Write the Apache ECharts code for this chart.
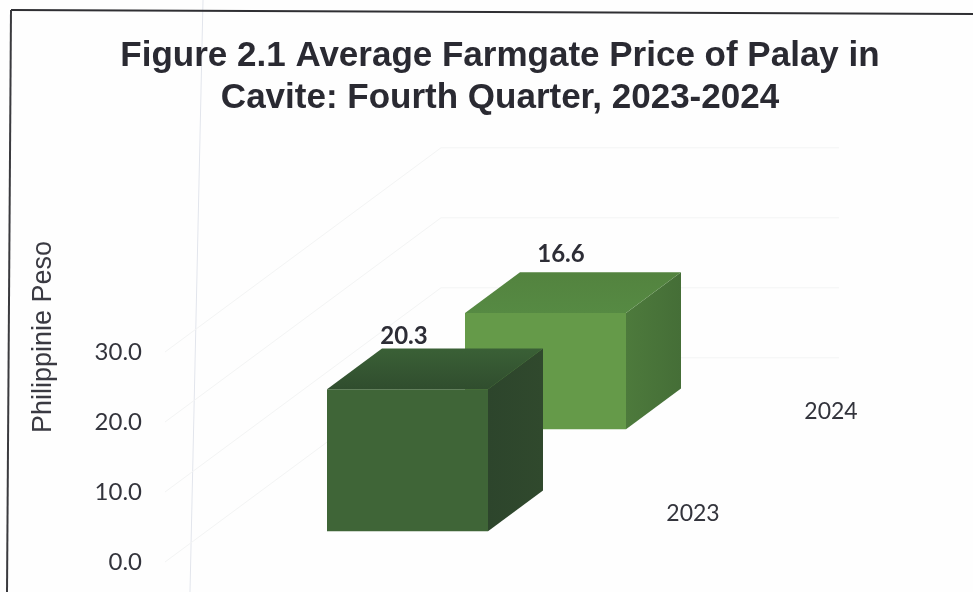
<!DOCTYPE html>
<html>
<head>
<meta charset="utf-8">
<style>
  html, body { margin: 0; padding: 0; background: #fefefe; }
  #chart { width: 973px; height: 592px; }
</style>
<script src="https://cdn.jsdelivr.net/npm/echarts@6/dist/echarts.min.js"></script>
</head>
<body>
<div id="chart"></div>
<script>
// Average farmgate price of palay, pesos
const categories = ['2023', '2024'];
const values = [20.3, 16.6];
const tickValues = [0, 10, 20, 30];

// Oblique projection of the 3D column chart
const SHEAR = 0.74;        // vertical rise per pixel of depth along the floor
const FLOOR_WIDTH = 398;   // width of the back wall
const LATERAL = 201;       // column centre measured from the floor's left edge
const HALF_W = 80.5;       // half of a column's front width
const HALF_D_X = 27.5;     // half of a column's depth, horizontal part
const LABEL_SHIFT = [-31, -12];
const LABEL_LIFT = [12, 18];

const faces = [
  { front: '#3f6537', top: ['#3a6036', '#304d2e'], side: ['#2d452c', '#30492d'] },
  { front: '#659a49', top: ['#53833f', '#568a43'], side: ['#4d7a3c', '#456e37'] }
];

const chart = echarts.init(document.getElementById('chart'));

function renderWalls(params, api) {
  const cs = params.coordSys;
  const y = api.coord([0, api.value(0)])[1];
  const backX = cs.x + cs.width;
  const backY = y - cs.width * SHEAR;
  return {
    type: 'polyline',
    silent: true,
    shape: { points: [[cs.x, y], [backX, backY], [backX + FLOOR_WIDTH, backY]] },
    style: { fill: null, stroke: '#f3f4f4', lineWidth: 1 }
  };
}

function renderColumn(params, api) {
  const cs = params.coordSys;
  const i = api.value(0);
  const v = api.value(1);
  const base = api.coord([i, 0]);
  const top = api.coord([i, v]);
  const rise = (base[0] - cs.x) * SHEAR;
  const cx = base[0] + LATERAL;
  const by = base[1] - rise;
  const ty = top[1] - rise;
  const dy = HALF_D_X * SHEAR;

  // Front face corners and the same corners pushed back in depth
  const fl = cx - HALF_W - HALF_D_X, fr = cx + HALF_W - HALF_D_X;
  const bl = cx - HALF_W + HALF_D_X, br = cx + HALF_W + HALF_D_X;
  const fb = by + dy, ft = ty + dy, bb = by - dy, bt = ty - dy;
  const c = faces[i];
  const grad = (pair, x2, y2) => new echarts.graphic.LinearGradient(0, 0, x2, y2, [
    { offset: 0, color: pair[0] }, { offset: 1, color: pair[1] }
  ]);

  return {
    type: 'group',
    children: [
      {
        type: 'polygon',
        shape: { points: [[fr, fb], [fr, ft], [br, bt], [br, bb]] },
        style: { fill: grad(c.side, 1, 0) }
      },
      {
        type: 'polygon',
        shape: { points: [[fl, ft], [bl, bt], [br, bt], [fr, ft]] },
        style: { fill: grad(c.top, 0, 1) }
      },
      {
        type: 'rect',
        shape: { x: fl, y: ft, width: fr - fl, height: fb - ft },
        style: { fill: c.front }
      },
      {
        type: 'text',
        style: {
          x: cx + LABEL_SHIFT[i], y: bt - LABEL_LIFT[i],
          text: v.toFixed(1),
          align: 'center', verticalAlign: 'middle',
          font: 'bold 24px Lato', fill: '#2d2d36'
        }
      },
      {
        type: 'text',
        style: {
          x: cx + 258, y: by + 3,
          text: categories[i],
          align: 'center', verticalAlign: 'middle',
          font: '23px Lato', fill: '#33343c'
        }
      }
    ]
  };
}

chart.setOption({
  animation: false,
  backgroundColor: '#fefefe',
  title: {
    text: 'Figure 2.1 Average Farmgate Price of Palay in\nCavite: Fourth Quarter, 2023-2024',
    left: 495,
    top: 30,
    textAlign: 'center',
    textStyle: {
      fontFamily: 'Liberation Sans',
      fontWeight: 'bold',
      fontSize: 35,
      lineHeight: 42,
      color: '#2a2a32'
    }
  },
  grid: { left: 165, top: 352, width: 276, height: 210 },
  xAxis: {
    type: 'category',
    data: categories,
    axisLine: { show: false },
    axisTick: { show: false },
    axisLabel: { show: false }
  },
  yAxis: {
    type: 'value',
    min: 0,
    max: 30,
    interval: 10,
    name: 'Philippinie Peso',
    nameLocation: 'middle',
    nameGap: 108,
    nameRotate: 90,
    nameTextStyle: {
      fontFamily: 'Liberation Sans',
      fontSize: 27,
      color: '#3a3a42',
      padding: [0, 0, 0, 240]
    },
    axisLine: { show: false },
    axisTick: { show: false },
    splitLine: { show: false },
    axisLabel: {
      margin: 23,
      formatter: (v) => v.toFixed(1),
      fontFamily: 'Lato',
      fontSize: 24,
      color: '#33343c'
    }
  },
  series: [
    {
      type: 'custom',
      silent: true,
      clip: false,
      z: 1,
      encode: { y: 0 },
      data: tickValues.map((v) => [v]),
      renderItem: renderWalls
    },
    {
      type: 'custom',
      silent: true,
      clip: false,
      z: 2,
      encode: { x: 0, y: 1 },
      // Rear column first so the nearer one overlaps it
      data: categories.map((c, i) => [i, values[i]]).reverse(),
      renderItem: renderColumn
    }
  ],
  graphic: [
    { type: 'line', silent: true, z: 0, shape: { x1: 203, y1: 0, x2: 190, y2: 592 }, style: { stroke: '#e2e5ec', lineWidth: 1 } },
    { type: 'line', silent: true, shape: { x1: 11, y1: 10, x2: 973, y2: 14 }, style: { stroke: '#2f2f33', lineWidth: 1.8 } },
    { type: 'line', silent: true, shape: { x1: 11, y1: 10, x2: 7, y2: 592 }, style: { stroke: '#3a3a3e', lineWidth: 2 } }
  ]
});
</script>
</body>
</html>
